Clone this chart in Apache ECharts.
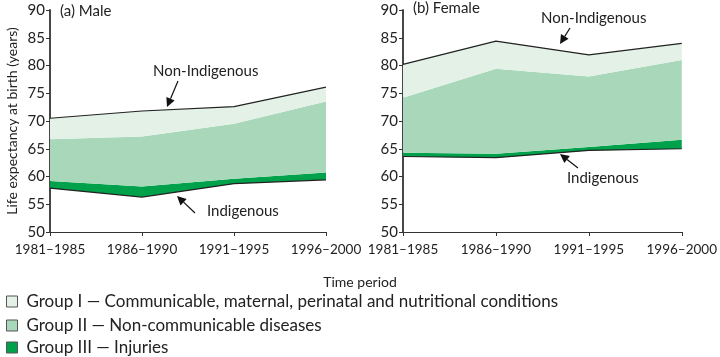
<!DOCTYPE html>
<html>
<head>
<meta charset="utf-8">
<script src="https://cdn.jsdelivr.net/npm/echarts@6/dist/echarts.min.js"></script>
<style>
html,body{margin:0;padding:0;background:#fff;}
#chart{width:720px;height:357px;}
</style>
</head>
<body>
<div id="chart"></div>
<script>
// ---- Data ----
var periods = ['1981\u20131985', '1986\u20131990', '1991\u20131995', '1996\u20132000'];
var yTicks = [50, 55, 60, 65, 70, 75, 80, 85, 90];

// Male: life expectancy boundaries (years)
var maleIndigenous      = [57.9, 56.3, 58.7, 59.4];
var maleWithGroupIII    = [59.2, 58.2, 59.6, 60.7];
var maleWithGroupII     = [66.7, 67.2, 69.5, 73.5];
var maleNonIndigenous   = [70.5, 71.8, 72.6, 76.1];

// Female: life expectancy boundaries (years)
var femaleIndigenous    = [63.6, 63.4, 64.7, 65.0];
var femaleWithGroupIII  = [64.3, 64.1, 65.3, 66.6];
var femaleWithGroupII   = [74.2, 79.4, 78.0, 81.0];
var femaleNonIndigenous = [80.2, 84.4, 81.9, 84.0];

var groupNames = [
  'Group I \u2014 Communicable, maternal, perinatal and nutritional conditions',
  'Group II \u2014 Non-communicable diseases',
  'Group III \u2014 Injuries'
];
var groupColors = ['#e3f1e7', '#a8d8b9', '#00a14b'];

function diff(a, b) { return a.map(function (v, i) { return +(v - b[i]).toFixed(2); }); }

var FONT = 'Lato';

function makeSeries(idx, base, g3, g2, top, stackName) {
  return [
    { type: 'line', xAxisIndex: idx, yAxisIndex: idx, stack: stackName, data: base,
      symbol: 'none', silent: true, lineStyle: { color: '#222', width: 1.2 },
      areaStyle: { color: 'rgba(0,0,0,0)' }, z: 3 },
    { name: groupNames[2], type: 'line', xAxisIndex: idx, yAxisIndex: idx, stack: stackName,
      data: diff(g3, base), symbol: 'none', lineStyle: { width: 0 },
      itemStyle: { color: groupColors[2] }, areaStyle: { color: groupColors[2], opacity: 1 }, z: 2 },
    { name: groupNames[1], type: 'line', xAxisIndex: idx, yAxisIndex: idx, stack: stackName,
      data: diff(g2, g3), symbol: 'none', lineStyle: { width: 0 },
      itemStyle: { color: groupColors[1] }, areaStyle: { color: groupColors[1], opacity: 1 }, z: 2 },
    { name: groupNames[0], type: 'line', xAxisIndex: idx, yAxisIndex: idx, stack: stackName,
      data: diff(top, g2), symbol: 'none', lineStyle: { color: '#222', width: 1.2 },
      itemStyle: { color: groupColors[0] }, areaStyle: { color: groupColors[0], opacity: 1 }, z: 3 }
  ];
}

function xAxis(idx) {
  return {
    type: 'category', gridIndex: idx, data: periods, boundaryGap: false,
    axisLine: { lineStyle: { color: '#333', width: 1.2 } },
    axisTick: { inside: false, length: 4, lineStyle: { color: '#333' } },
    axisLabel: { color: '#222', fontSize: 13.5, fontFamily: FONT, margin: 11 },
    splitLine: { show: false }
  };
}
function yAxis(idx, withName) {
  var ax = {
    type: 'value', gridIndex: idx, min: yTicks[0], max: yTicks[yTicks.length - 1], interval: 5,
    axisLine: { show: true, lineStyle: { color: '#333', width: 1.8 } },
    axisTick: { show: true, length: 4, lineStyle: { color: '#333' } },
    axisLabel: { color: '#222', fontSize: 15, fontFamily: FONT, margin: 5 },
    splitLine: { show: false }
  };
  if (withName) {
    ax.name = 'Life expectancy at birth (years)';
    ax.nameLocation = 'middle';
    ax.nameGap = 31;
    ax.nameTextStyle = { color: '#222', fontSize: 14, fontFamily: FONT };
  }
  return ax;
}

function arrow(x1, y1, x2, y2) {
  var dx = x2 - x1, dy = y2 - y1, L = Math.sqrt(dx * dx + dy * dy);
  var ux = dx / L, uy = dy / L, hl = 9, hw = 4.5;
  var bx = x2 - ux * hl, by = y2 - uy * hl;
  return [
    { type: 'line', shape: { x1: x1, y1: y1, x2: bx, y2: by }, style: { stroke: '#111', lineWidth: 1.2 }, z: 100 },
    { type: 'polygon', shape: { points: [[x2, y2], [bx - uy * hw, by + ux * hw], [bx + uy * hw, by - ux * hw]] },
      style: { fill: '#111' }, z: 100 }
  ];
}
function txt(x, y, s, size) {
  return { type: 'text', x: x, y: y, style: { text: s, fill: '#222', fontSize: size || 15, fontFamily: FONT }, z: 100 };
}

var graphics = [
  txt(60, 4, '(a) Male', 15),
  txt(413, 1, '(b) Female', 15),
  txt(153, 64, 'Non-Indigenous', 15),
  txt(207, 204, 'Indigenous', 15),
  txt(541, 11, 'Non-Indigenous', 15),
  txt(567, 171, 'Indigenous', 15)
].concat(arrow(178, 81, 167, 107))
 .concat(arrow(195, 213, 177, 196))
 .concat(arrow(570, 28, 560, 44))
 .concat(arrow(578, 168, 560, 154));

var legendTops = [293, 317, 339];
var legends = groupNames.map(function (name, i) {
  return {
    orient: 'vertical', left: 6, top: legendTops[i], padding: 0, itemWidth: 11, itemHeight: 11,
    icon: 'rect', data: [name],
    itemStyle: { borderColor: '#555', borderWidth: 1 },
    textStyle: { color: '#222', fontSize: 17, lineHeight: 17, fontFamily: FONT, padding: [0, 0, 0, 4] },
    selectedMode: false
  };
});

var chart = echarts.init(document.getElementById('chart'), null, { renderer: 'canvas' });
chart.setOption({
  animation: false,
  backgroundColor: '#fff',
  textStyle: { fontFamily: FONT },
  grid: [
    { left: 50, right: 394, top: 10, bottom: 125 },
    { left: 403, right: 34, top: 10, bottom: 125 }
  ],
  xAxis: [xAxis(0), xAxis(1)],
  yAxis: [yAxis(0, true), yAxis(1, false)],
  title: {
    text: 'Time period', left: 'center', top: 270,
    textStyle: { color: '#222', fontSize: 14, fontWeight: 'normal', fontFamily: FONT }
  },
  legend: legends,
  series: makeSeries(0, maleIndigenous, maleWithGroupIII, maleWithGroupII, maleNonIndigenous, 'm')
    .concat(makeSeries(1, femaleIndigenous, femaleWithGroupIII, femaleWithGroupII, femaleNonIndigenous, 'f')),
  graphic: graphics
});
</script>
</body>
</html>
